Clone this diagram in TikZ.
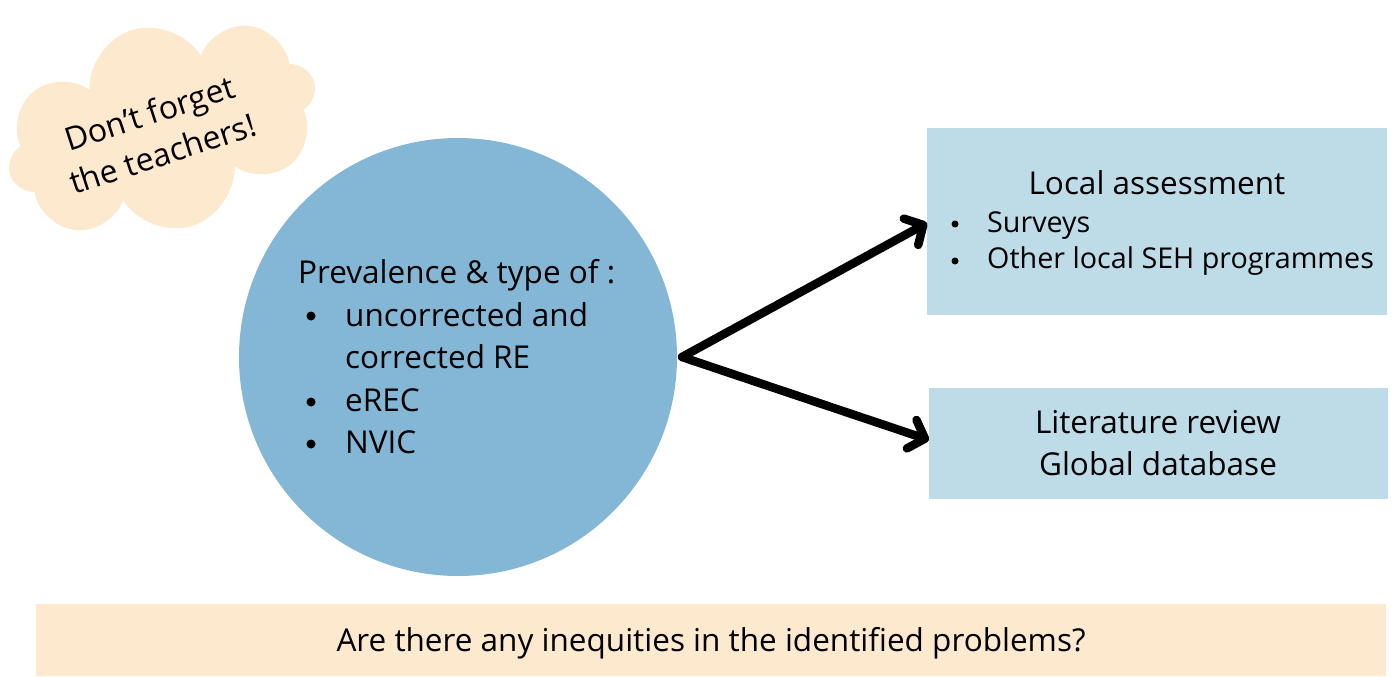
\documentclass[tikz,border=0pt]{standalone}
\usepackage{fontspec}
\setmainfont{Open Sans}
\usetikzlibrary{arrows.meta,shapes.symbols}
\definecolor{circblue}{HTML}{84B6D6}
\definecolor{boxblue}{HTML}{BEDBE8}
\definecolor{peach}{HTML}{FDE9CE}
\tikzset{
  bigtxt/.style={font=\fontsize{31.5}{42}\selectfont, inner sep=0pt},
  boxtxt/.style={font=\fontsize{28.7}{37}\selectfont, inner sep=0pt},
  bigdot/.style={circle, fill=black, inner sep=0pt, minimum size=9pt},
  smalldot/.style={circle, fill=black, inner sep=0pt, minimum size=7pt},
  infobox/.style={fill=boxblue, draw=none, inner sep=0pt},
  fatarrow/.style={line width=8.5pt, line cap=round, line join=round,
    -{Straight Barb[round,length=14pt,width=30pt]}},
}
\begin{document}
\begin{tikzpicture}[x=1pt,y=-1pt]
\useasboundingbox (0,0) rectangle (1392,677);

% reminder cloud
\node[cloud, cloud puffs=8, aspect=1.6, fill=peach, draw=none,
      minimum width=318pt, minimum height=205pt, rotate=17] (cloud) at (162,128) {};
\node[rotate=18, font=\fontsize{32}{43}\selectfont, align=center, inner sep=0pt]
  (cloudtxt) at (156,133) {Don’t forget\\the teachers!};

% central circle
\node[circle, fill=circblue, minimum size=438pt, inner sep=0pt] (prev) at (458,357) {};
\node[bigtxt, anchor=base west] (p0) at (298,283) {Prevalence \& type of :};
\node[bigdot] (b1) at (311,316) {};
\node[bigtxt, anchor=base west] (p1) at (345,326) {uncorrected and};
\node[bigtxt, anchor=base west] (p2) at (345,368) {corrected RE};
\node[bigdot] (b3) at (311,402) {};
\node[bigtxt, anchor=base west] (p3) at (345,411) {eREC};
\node[bigdot] (b4) at (311,444) {};
\node[bigtxt, anchor=base west] (p4) at (345,453) {NVIC};

% local assessment box
\path[infobox] (927,128) rectangle (1387,315);
\coordinate (local) at (927,223);
\node[bigtxt, anchor=base] (l0) at (1157,194) {Local assessment};
\node[smalldot] (lb1) at (955,224) {};
\node[boxtxt, anchor=base west] (l1) at (987,232) {Surveys};
\node[smalldot] (lb2) at (955,261) {};
\node[boxtxt, anchor=base west] (l2) at (987,268) {Other local SEH programmes};

% literature box
\path[infobox] (929,388) rectangle (1388,499);
\coordinate (lit) at (929,440);
\node[bigtxt, anchor=base] (r1) at (1158,433) {Literature review};
\node[bigtxt, anchor=base] (r2) at (1158,475) {Global database};

% arrows out of the circle
\coordinate (fork) at (682,357);
\draw[fatarrow] (fork) -- (local);
\draw[fatarrow] (fork) -- (lit);

% question banner
\path[fill=peach] (36,604) rectangle (1386,676);
\node[bigtxt, anchor=base] (q) at (711,651) {Are there any inequities in the identified problems?};
\end{tikzpicture}
\end{document}
